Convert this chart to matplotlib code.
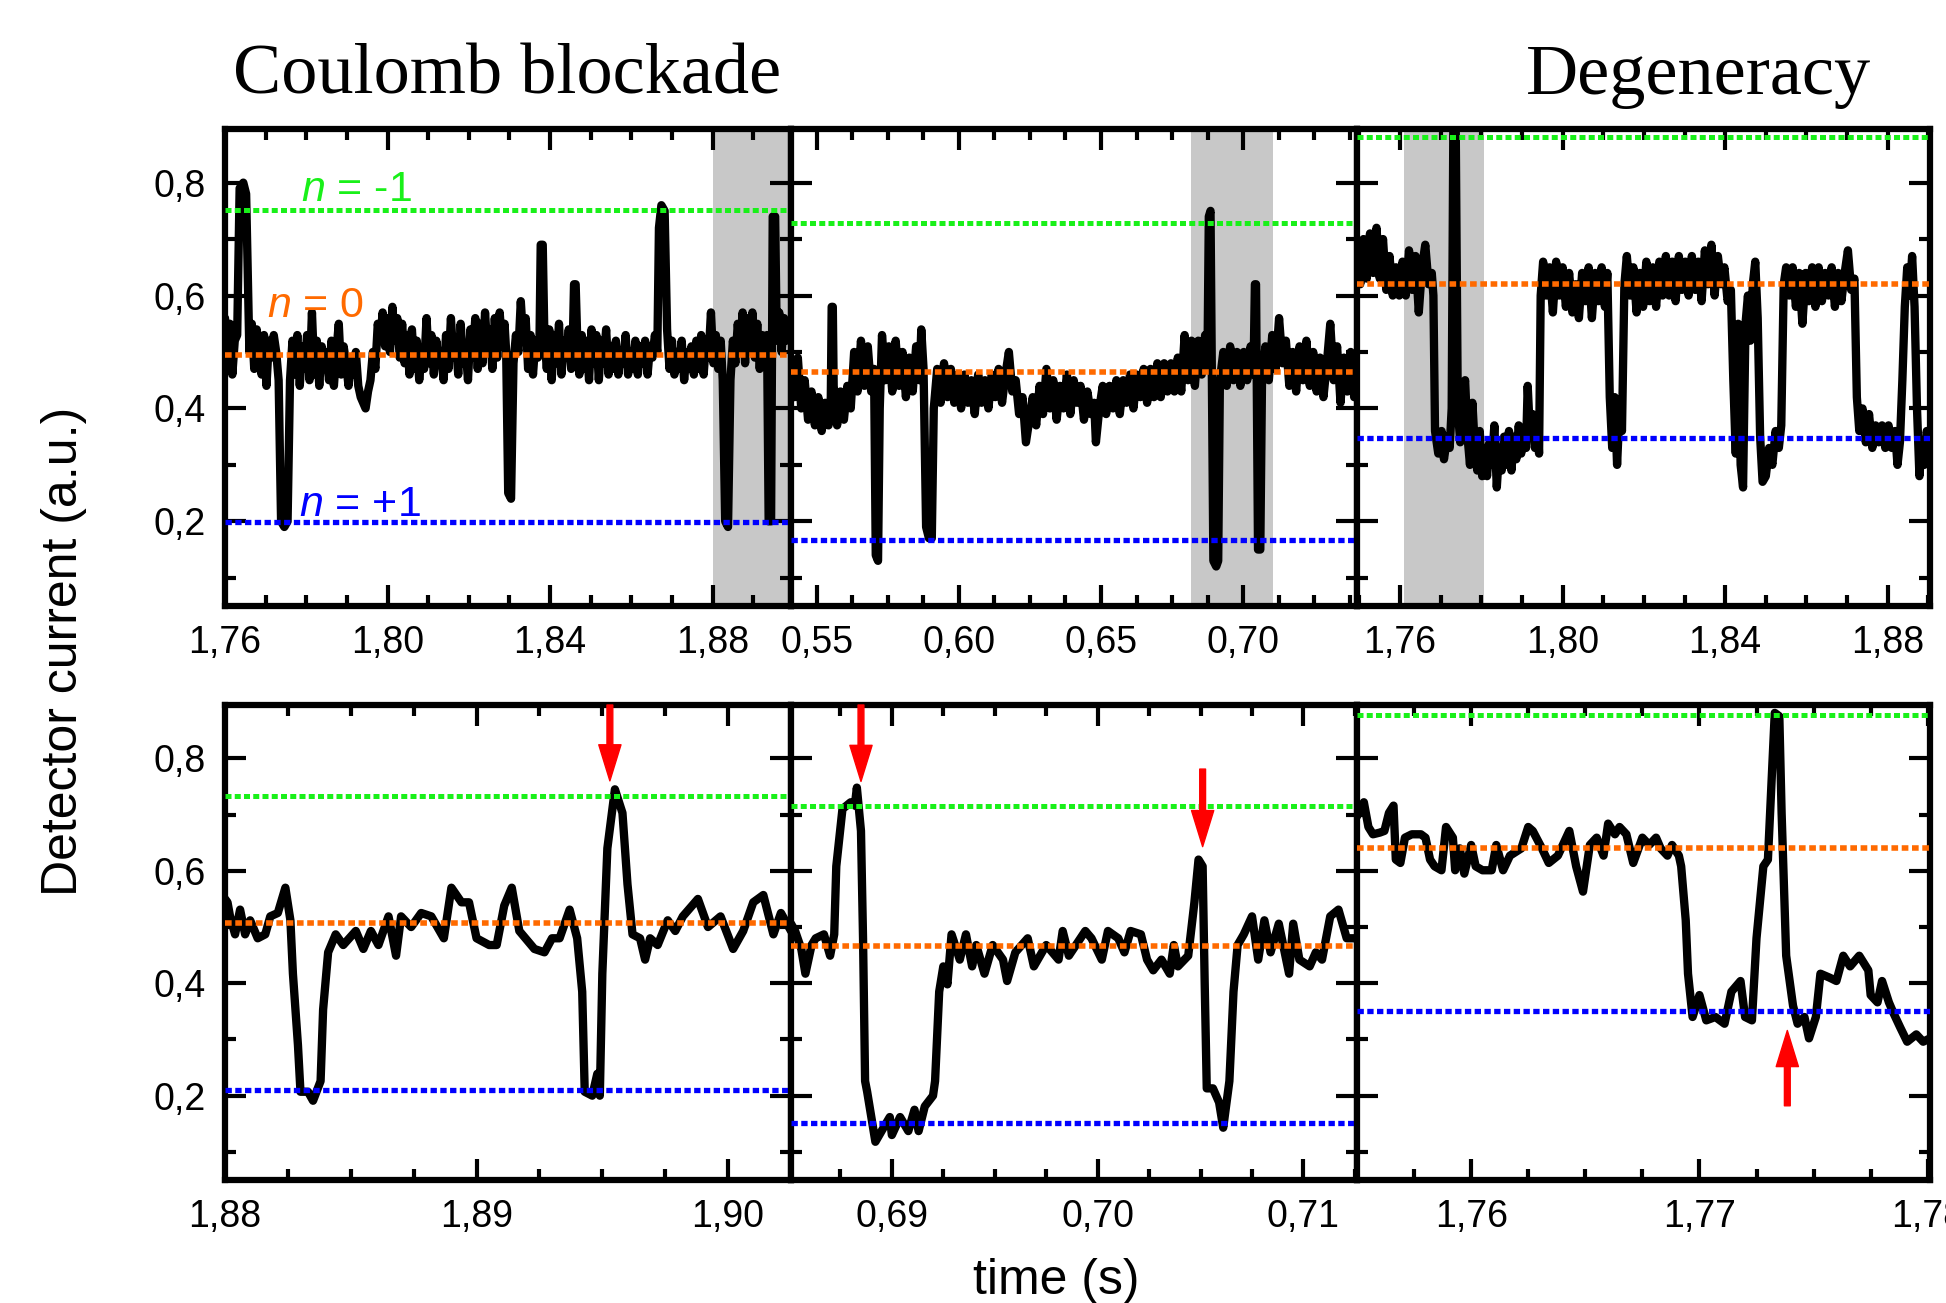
import matplotlib
matplotlib.use("Agg")
import matplotlib.pyplot as plt
from matplotlib.ticker import MultipleLocator

plt.rcParams['font.family'] = ['Liberation Sans', 'DejaVu Sans']
plt.rcParams['mathtext.fontset'] = 'custom'
plt.rcParams['mathtext.it'] = 'Liberation Sans:italic'
plt.rcParams['mathtext.rm'] = 'Liberation Sans'

# ---- data: (time s, detector current a.u.) ----
trace_cb_long = [
    (1.7600,0.56),(1.7606,0.47),(1.7612,0.55),(1.7618,0.46),(1.7624,0.52),
    (1.7630,0.53),(1.7636,0.79),(1.7645,0.80),(1.7652,0.78),(1.7660,0.50),
    (1.7666,0.55),(1.7672,0.47),(1.7678,0.54),(1.7684,0.50),(1.7690,0.46),(1.7696,0.53),
    (1.7702,0.44),(1.7708,0.52),(1.7714,0.49),(1.7720,0.53),(1.7726,0.50),
    (1.7732,0.45),(1.7738,0.20),(1.7746,0.19),(1.7754,0.20),(1.7760,0.45),
    (1.7766,0.52),(1.7772,0.46),(1.7778,0.53),(1.7784,0.44),(1.7790,0.51),(1.7796,0.47),
    (1.7802,0.53),(1.7808,0.45),(1.7814,0.57),(1.7820,0.46),(1.7826,0.52),(1.7832,0.44),
    (1.7838,0.51),(1.7844,0.47),(1.7850,0.50),(1.7856,0.45),(1.7862,0.52),(1.7868,0.44),
    (1.7874,0.50),(1.7880,0.55),(1.7886,0.46),(1.7892,0.51),(1.7898,0.48),(1.7904,0.44),
    (1.7910,0.49),(1.7916,0.46),(1.7922,0.50),(1.7928,0.44),(1.7934,0.42),(1.7940,0.41),
    (1.7946,0.40),(1.7952,0.43),(1.7958,0.45),(1.7964,0.50),(1.7970,0.47),(1.7976,0.55),
    (1.7982,0.52),(1.7988,0.57),(1.7994,0.51),(1.8000,0.56),(1.8006,0.50),(1.8012,0.58),
    (1.8018,0.52),(1.8024,0.56),(1.8030,0.49),(1.8036,0.55),(1.8042,0.48),(1.8048,0.53),
    (1.8054,0.46),(1.8060,0.54),(1.8066,0.47),(1.8072,0.52),(1.8078,0.45),(1.8084,0.50),
    (1.8090,0.47),(1.8096,0.56),(1.8102,0.48),(1.8108,0.53),(1.8114,0.46),(1.8120,0.52),
    (1.8126,0.48),(1.8132,0.50),(1.8138,0.45),(1.8144,0.53),(1.8150,0.47),(1.8156,0.56),
    (1.8162,0.49),(1.8168,0.52),(1.8174,0.46),(1.8180,0.55),(1.8186,0.48),(1.8192,0.51),
    (1.8198,0.45),(1.8204,0.54),(1.8210,0.49),(1.8216,0.56),(1.8222,0.47),(1.8228,0.55),
    (1.8234,0.48),(1.8240,0.57),(1.8246,0.50),(1.8252,0.54),(1.8258,0.47),(1.8264,0.56),
    (1.8270,0.49),(1.8276,0.57),(1.8282,0.51),(1.8288,0.55),
    (1.8292,0.50),(1.8297,0.25),(1.8304,0.24),(1.8310,0.48),
    (1.8316,0.53),(1.8322,0.50),(1.8328,0.59),(1.8334,0.52),(1.8340,0.56),(1.8346,0.47),
    (1.8352,0.53),(1.8358,0.46),(1.8364,0.52),(1.8370,0.49),(1.8374,0.52),
    (1.8377,0.69),(1.8382,0.69),(1.8386,0.53),
    (1.8392,0.47),(1.8398,0.54),(1.8404,0.45),(1.8410,0.53),(1.8416,0.48),(1.8422,0.55),
    (1.8428,0.46),(1.8434,0.52),(1.8440,0.49),(1.8446,0.54),(1.8452,0.47),(1.8456,0.52),
    (1.8459,0.62),(1.8463,0.62),(1.8467,0.52),
    (1.8472,0.46),(1.8478,0.53),(1.8484,0.47),(1.8490,0.52),(1.8496,0.45),(1.8502,0.54),
    (1.8508,0.48),(1.8514,0.53),(1.8520,0.45),(1.8526,0.52),(1.8532,0.48),(1.8538,0.54),
    (1.8544,0.46),(1.8550,0.51),(1.8556,0.47),(1.8562,0.52),(1.8568,0.46),(1.8574,0.50),
    (1.8580,0.48),(1.8586,0.53),(1.8592,0.46),(1.8598,0.50),(1.8604,0.47),(1.8610,0.52),
    (1.8616,0.46),(1.8622,0.51),(1.8628,0.48),(1.8634,0.52),(1.8640,0.46),(1.8646,0.51),
    (1.8652,0.49),(1.8658,0.53),(1.8664,0.50),
    (1.8668,0.72),(1.8674,0.76),(1.8682,0.75),(1.8688,0.54),
    (1.8694,0.47),(1.8700,0.52),(1.8706,0.46),(1.8712,0.50),(1.8718,0.47),(1.8724,0.52),
    (1.8730,0.45),(1.8736,0.50),(1.8742,0.47),(1.8748,0.51),(1.8754,0.46),(1.8760,0.52),
    (1.8766,0.47),(1.8772,0.53),(1.8778,0.46),(1.8784,0.52),(1.8790,0.49),(1.8796,0.57),
    (1.8802,0.48),(1.8808,0.53),(1.8814,0.47),(1.8820,0.52),
    (1.8825,0.45),(1.8831,0.20),(1.8838,0.19),(1.8844,0.45),
    (1.8850,0.52),(1.8856,0.48),(1.8862,0.55),(1.8868,0.50),(1.8874,0.57),(1.8880,0.48),
    (1.8886,0.56),(1.8892,0.50),(1.8898,0.57),(1.8904,0.49),(1.8910,0.55),(1.8916,0.47),
    (1.8922,0.53),(1.8928,0.49),(1.8934,0.53),
    (1.8938,0.20),(1.8944,0.20),(1.8948,0.74),(1.8954,0.74),(1.8958,0.52),
    (1.8964,0.57),(1.8970,0.50),(1.8976,0.56),(1.8982,0.52),(1.8988,0.55),(1.8993,0.53),
]

trace_mid_long = [
    (0.5410,0.47),(0.5422,0.42),(0.5434,0.49),(0.5446,0.40),(0.5458,0.45),(0.5470,0.38),
    (0.5482,0.43),(0.5494,0.37),(0.5506,0.42),(0.5518,0.36),(0.5530,0.41),(0.5542,0.37),
    (0.5550,0.42),(0.5553,0.58),(0.5557,0.58),(0.5560,0.44),
    (0.5572,0.37),(0.5584,0.43),(0.5596,0.38),(0.5608,0.44),(0.5620,0.40),(0.5632,0.50),
    (0.5644,0.43),(0.5656,0.52),(0.5668,0.44),(0.5680,0.51),(0.5692,0.43),(0.5702,0.47),
    (0.5708,0.14),(0.5716,0.13),(0.5722,0.40),
    (0.5730,0.53),(0.5742,0.45),(0.5754,0.51),(0.5766,0.43),(0.5778,0.52),(0.5790,0.44),
    (0.5802,0.50),(0.5814,0.42),(0.5826,0.49),(0.5838,0.43),(0.5850,0.51),(0.5862,0.45),
    (0.5868,0.54),(0.5876,0.47),
    (0.5885,0.19),(0.5895,0.17),(0.5905,0.17),(0.5912,0.40),
    (0.5924,0.47),(0.5936,0.41),(0.5948,0.48),(0.5960,0.42),(0.5972,0.47),(0.5984,0.41),
    (0.5996,0.46),(0.6008,0.40),(0.6020,0.46),(0.6032,0.41),(0.6044,0.45),(0.6056,0.39),
    (0.6068,0.46),(0.6080,0.41),(0.6092,0.45),(0.6104,0.40),(0.6116,0.46),(0.6128,0.42),
    (0.6140,0.47),(0.6152,0.41),(0.6164,0.46),(0.6176,0.50),(0.6188,0.43),(0.6200,0.45),
    (0.6212,0.39),(0.6224,0.42),(0.6236,0.34),(0.6248,0.38),(0.6260,0.42),(0.6272,0.37),
    (0.6284,0.44),(0.6296,0.39),(0.6308,0.47),(0.6320,0.40),(0.6332,0.45),(0.6344,0.38),
    (0.6356,0.44),(0.6368,0.40),(0.6380,0.46),(0.6392,0.39),(0.6404,0.45),(0.6416,0.41),
    (0.6428,0.44),(0.6440,0.38),(0.6452,0.43),(0.6464,0.39),(0.6476,0.41),(0.6482,0.34),
    (0.6494,0.40),(0.6506,0.44),(0.6518,0.39),(0.6530,0.44),(0.6542,0.40),(0.6554,0.45),
    (0.6566,0.39),(0.6578,0.45),(0.6590,0.41),(0.6602,0.46),(0.6614,0.40),(0.6626,0.46),
    (0.6638,0.42),(0.6650,0.47),(0.6662,0.41),(0.6674,0.47),(0.6686,0.42),(0.6698,0.48),
    (0.6710,0.42),(0.6722,0.48),(0.6734,0.43),(0.6746,0.48),(0.6758,0.43),(0.6770,0.49),
    (0.6782,0.43),(0.6794,0.53),(0.6806,0.45),(0.6818,0.52),(0.6830,0.44),(0.6842,0.52),
    (0.6854,0.46),(0.6866,0.53),(0.6874,0.47),
    (0.6879,0.74),(0.6885,0.75),(0.6890,0.45),
    (0.6895,0.13),(0.6905,0.12),(0.6912,0.13),(0.6918,0.45),
    (0.6930,0.50),(0.6942,0.44),(0.6954,0.51),(0.6966,0.45),(0.6978,0.50),(0.6990,0.44),
    (0.7002,0.50),(0.7014,0.45),(0.7026,0.51),(0.7036,0.46),
    (0.7041,0.62),(0.7045,0.62),(0.7052,0.15),(0.7060,0.15),(0.7066,0.45),
    (0.7078,0.51),(0.7090,0.45),(0.7102,0.53),(0.7114,0.47),(0.7126,0.56),(0.7138,0.48),
    (0.7150,0.52),(0.7162,0.44),(0.7174,0.50),(0.7186,0.43),(0.7198,0.51),(0.7210,0.45),
    (0.7222,0.52),(0.7234,0.44),(0.7246,0.50),(0.7258,0.43),(0.7270,0.49),(0.7282,0.42),
    (0.7294,0.48),(0.7306,0.55),(0.7318,0.45),(0.7330,0.51),(0.7342,0.41),(0.7354,0.49),
    (0.7366,0.43),(0.7378,0.50),(0.7390,0.42),(0.7400,0.46),
]

trace_deg_long = [
    (1.7494,0.68),(1.7502,0.62),(1.7510,0.70),(1.7518,0.63),(1.7526,0.71),(1.7534,0.64),
    (1.7542,0.72),(1.7550,0.63),(1.7558,0.70),(1.7566,0.61),(1.7574,0.67),(1.7582,0.60),
    (1.7590,0.65),(1.7598,0.60),(1.7606,0.66),(1.7614,0.60),(1.7622,0.68),(1.7630,0.61),
    (1.7638,0.67),(1.7646,0.57),(1.7654,0.65),(1.7662,0.69),(1.7670,0.62),(1.7678,0.64),
    (1.7682,0.60),
    (1.7686,0.36),(1.7694,0.32),(1.7702,0.36),(1.7708,0.31),(1.7716,0.35),(1.7722,0.33),
    (1.7727,0.40),(1.7731,0.89),(1.7737,0.89),(1.7742,0.40),
    (1.7748,0.34),(1.7754,0.42),(1.7760,0.45),(1.7766,0.35),(1.7772,0.30),(1.7778,0.41),
    (1.7784,0.33),(1.7790,0.29),(1.7796,0.36),(1.7802,0.28),(1.7808,0.33),(1.7814,0.28),
    (1.7820,0.34),(1.7826,0.30),(1.7832,0.37),(1.7838,0.26),(1.7844,0.33),(1.7850,0.29),
    (1.7856,0.35),(1.7862,0.30),(1.7868,0.36),(1.7874,0.29),(1.7880,0.35),(1.7886,0.31),
    (1.7892,0.37),(1.7898,0.32),(1.7904,0.36),(1.7910,0.33),(1.7914,0.44),(1.7920,0.35),
    (1.7926,0.39),(1.7932,0.33),(1.7938,0.38),(1.7942,0.32),
    (1.7946,0.60),(1.7952,0.66),(1.7960,0.60),(1.7968,0.65),(1.7976,0.57),(1.7984,0.66),
    (1.7992,0.60),(1.8000,0.65),(1.8008,0.58),(1.8016,0.64),(1.8024,0.57),(1.8032,0.62),
    (1.8040,0.56),(1.8048,0.64),(1.8056,0.59),(1.8064,0.65),(1.8072,0.56),(1.8080,0.64),
    (1.8088,0.59),(1.8096,0.65),(1.8104,0.58),(1.8110,0.64),
    (1.8116,0.42),(1.8122,0.33),(1.8128,0.42),(1.8134,0.30),(1.8140,0.40),(1.8146,0.36),
    (1.8152,0.62),(1.8158,0.67),(1.8166,0.60),(1.8174,0.65),(1.8182,0.57),(1.8190,0.64),
    (1.8198,0.58),(1.8206,0.66),(1.8214,0.59),(1.8222,0.65),(1.8230,0.58),(1.8238,0.66),
    (1.8246,0.60),(1.8254,0.67),(1.8262,0.60),(1.8270,0.66),(1.8278,0.59),(1.8286,0.67),
    (1.8294,0.61),(1.8302,0.66),(1.8310,0.60),(1.8318,0.67),(1.8326,0.61),(1.8334,0.66),
    (1.8342,0.59),(1.8350,0.68),(1.8358,0.62),(1.8366,0.69),(1.8374,0.60),(1.8382,0.67),
    (1.8390,0.62),(1.8398,0.65),(1.8406,0.59),(1.8414,0.61),
    (1.8420,0.45),(1.8426,0.32),(1.8432,0.55),(1.8438,0.30),(1.8444,0.26),(1.8450,0.55),
    (1.8456,0.60),(1.8462,0.52),(1.8468,0.62),(1.8474,0.66),(1.8480,0.56),
    (1.8486,0.35),(1.8492,0.27),(1.8500,0.28),(1.8508,0.33),(1.8516,0.30),(1.8524,0.36),
    (1.8532,0.33),(1.8538,0.37),
    (1.8544,0.62),(1.8550,0.65),(1.8558,0.60),(1.8566,0.65),(1.8574,0.58),(1.8582,0.64),
    (1.8590,0.55),(1.8598,0.64),(1.8606,0.59),(1.8614,0.65),(1.8622,0.58),(1.8630,0.65),
    (1.8638,0.59),(1.8646,0.64),(1.8654,0.60),(1.8662,0.65),(1.8670,0.58),(1.8678,0.64),
    (1.8686,0.59),(1.8694,0.64),(1.8702,0.68),(1.8710,0.61),(1.8718,0.63),
    (1.8724,0.42),(1.8730,0.36),(1.8738,0.40),(1.8746,0.34),(1.8754,0.39),(1.8762,0.33),
    (1.8770,0.37),(1.8778,0.34),(1.8786,0.37),(1.8794,0.33),(1.8802,0.37),(1.8810,0.33),
    (1.8818,0.36),(1.8824,0.30),(1.8830,0.34),(1.8836,0.45),
    (1.8842,0.58),(1.8848,0.65),(1.8854,0.60),(1.8860,0.67),(1.8866,0.58),(1.8872,0.40),
    (1.8878,0.28),(1.8884,0.34),(1.8890,0.30),(1.8896,0.36),(1.8904,0.33),
]

trace_cb_zoom = [
    (1.8800,0.550),(1.8801,0.544),(1.8802,0.519),(1.8804,0.487),(1.8806,0.531),(1.8808,0.487),
    (1.8810,0.512),(1.8813,0.480),(1.8816,0.487),(1.8818,0.519),(1.8821,0.525),(1.8824,0.570),
    (1.8826,0.512),(1.8827,0.417),(1.8829,0.290),(1.8830,0.207),(1.8833,0.207),(1.8835,0.191),
    (1.8838,0.226),(1.8839,0.353),(1.8841,0.455),(1.8844,0.487),(1.8847,0.468),(1.8852,0.493),
    (1.8855,0.461),(1.8858,0.493),(1.8861,0.468),(1.8865,0.519),(1.8868,0.449),(1.8870,0.519),
    (1.8874,0.500),(1.8878,0.525),(1.8882,0.519),(1.8887,0.480),(1.8890,0.570),(1.8894,0.544),
    (1.8897,0.544),(1.8900,0.480),(1.8905,0.468),(1.8908,0.468),(1.8911,0.538),(1.8914,0.570),
    (1.8917,0.493),(1.8923,0.461),(1.8927,0.455),(1.8930,0.480),(1.8933,0.480),(1.8937,0.531),
    (1.8940,0.480),(1.8942,0.385),(1.8943,0.207),(1.8946,0.200),(1.8948,0.239),(1.8949,0.200),
    (1.8950,0.417),(1.8952,0.640),(1.8955,0.745),(1.8958,0.703),(1.8960,0.576),(1.8962,0.487),
    (1.8965,0.480),(1.8967,0.442),(1.8969,0.480),(1.8972,0.468),(1.8976,0.512),(1.8979,0.493),
    (1.8982,0.519),(1.8988,0.550),(1.8992,0.500),(1.8997,0.519),(1.9002,0.461),(1.9006,0.493),
    (1.9010,0.544),(1.9014,0.557),(1.9018,0.487),(1.9021,0.525),(1.9025,0.493),
]

trace_mid_zoom = [
    (0.6851,0.506),(0.6853,0.493),(0.6856,0.461),(0.6858,0.417),(0.6861,0.468),(0.6863,0.480),
    (0.6867,0.487),(0.6870,0.449),(0.6872,0.487),(0.6873,0.608),(0.6876,0.710),(0.6880,0.722),
    (0.6882,0.716),(0.6883,0.748),(0.6885,0.671),(0.6886,0.480),(0.6887,0.226),(0.6888,0.207),
    (0.6892,0.118),(0.6895,0.137),(0.6899,0.162),(0.6900,0.130),(0.6904,0.162),(0.6908,0.137),
    (0.6911,0.175),(0.6913,0.137),(0.6916,0.181),(0.6920,0.200),(0.6921,0.226),(0.6923,0.385),
    (0.6925,0.430),(0.6927,0.398),(0.6929,0.487),(0.6933,0.442),(0.6936,0.487),(0.6939,0.430),
    (0.6941,0.468),(0.6945,0.417),(0.6949,0.468),(0.6954,0.442),(0.6956,0.404),(0.6960,0.455),
    (0.6966,0.480),(0.6969,0.430),(0.6975,0.468),(0.6981,0.442),(0.6983,0.493),(0.6986,0.449),
    (0.6994,0.493),(0.6997,0.480),(0.7002,0.442),(0.7005,0.493),(0.7010,0.480),(0.7013,0.455),
    (0.7016,0.493),(0.7021,0.487),(0.7024,0.442),(0.7027,0.423),(0.7031,0.442),(0.7035,0.417),
    (0.7037,0.468),(0.7039,0.430),(0.7044,0.449),(0.7047,0.544),(0.7049,0.620),(0.7051,0.608),
    (0.7052,0.400),(0.7053,0.213),(0.7056,0.213),(0.7059,0.188),(0.7061,0.143),(0.7064,0.226),
    (0.7066,0.385),(0.7068,0.468),(0.7071,0.487),(0.7075,0.519),(0.7078,0.442),(0.7081,0.512),
    (0.7084,0.455),(0.7088,0.506),(0.7093,0.417),(0.7095,0.506),(0.7098,0.442),(0.7103,0.430),
    (0.7106,0.455),(0.7109,0.442),(0.7113,0.519),(0.7117,0.531),(0.7121,0.480),(0.7125,0.480),
]

trace_deg_zoom = [
    (1.7550,0.697),(1.7553,0.722),(1.7555,0.678),(1.7557,0.665),(1.7560,0.668),(1.7562,0.671),
    (1.7564,0.703),(1.7566,0.716),(1.7567,0.620),(1.7569,0.614),(1.7571,0.659),(1.7574,0.665),
    (1.7578,0.665),(1.7580,0.659),(1.7582,0.620),(1.7584,0.608),(1.7587,0.601),(1.7589,0.678),
    (1.7592,0.659),(1.7593,0.601),(1.7595,0.640),(1.7597,0.595),(1.7600,0.646),(1.7602,0.608),
    (1.7605,0.601),(1.7609,0.601),(1.7611,0.646),(1.7614,0.601),(1.7617,0.627),(1.7622,0.640),
    (1.7625,0.678),(1.7627,0.671),(1.7631,0.640),(1.7634,0.614),(1.7638,0.627),(1.7643,0.671),
    (1.7646,0.608),(1.7649,0.563),(1.7652,0.646),(1.7655,0.659),(1.7658,0.627),(1.7660,0.684),
    (1.7663,0.665),(1.7665,0.678),(1.7668,0.665),(1.7671,0.614),(1.7675,0.659),(1.7678,0.646),
    (1.7681,0.659),(1.7683,0.640),(1.7686,0.627),(1.7688,0.646),(1.7691,0.627),(1.7692,0.608),
    (1.7694,0.512),(1.7695,0.417),(1.7697,0.340),(1.7700,0.379),(1.7703,0.334),(1.7707,0.340),
    (1.7711,0.328),(1.7714,0.385),(1.7718,0.404),(1.7720,0.340),(1.7723,0.334),(1.7725,0.480),
    (1.7728,0.608),(1.7730,0.620),(1.7733,0.881),(1.7735,0.875),(1.7736,0.703),(1.7738,0.449),
    (1.7741,0.360),(1.7743,0.328),(1.7746,0.340),(1.7748,0.302),(1.7751,0.340),(1.7753,0.417),
    (1.7757,0.410),(1.7760,0.404),(1.7763,0.449),(1.7766,0.430),(1.7770,0.449),(1.7774,0.423),
    (1.7775,0.379),(1.7778,0.366),(1.7780,0.404),(1.7783,0.366),(1.7785,0.347),(1.7788,0.321),
    (1.7791,0.296),(1.7795,0.309),(1.7798,0.296),(1.7801,0.302),
]

traces = [trace_cb_long, trace_mid_long, trace_deg_long,
          trace_cb_zoom, trace_mid_zoom, trace_deg_zoom]

# charge-state levels n = -1, 0, +1 in each panel
level_minus = [0.752, 0.728, 0.880, 0.733, 0.715, 0.878]
level_zero = [0.495, 0.464, 0.620, 0.508, 0.466, 0.641]
level_plus = [0.199, 0.167, 0.348, 0.210, 0.152, 0.351]

x_limits = [(1.76, 1.8993), (0.541, 0.740), (1.7494, 1.8904),
            (1.88, 1.9025), (0.6851, 0.7126), (1.755, 1.7801)]
x_major = [[1.76, 1.80, 1.84, 1.88], [0.55, 0.60, 0.65, 0.70], [1.76, 1.80, 1.84, 1.88],
           [1.88, 1.89, 1.90], [0.69, 0.70, 0.71], [1.76, 1.77, 1.78]]
x_labels = [["1,76", "1,80", "1,84", "1,88"], ["0,55", "0,60", "0,65", "0,70"],
            ["1,76", "1,80", "1,84", "1,88"], ["1,88", "1,89", "1,90"],
            ["0,69", "0,70", "0,71"], ["1,76", "1,77", "1,78"]]
x_minor = [0.01, 0.0125, 0.01, 0.0025, 0.0025, 0.0025]
y_major = [0.2, 0.4, 0.6, 0.8]
y_labels = ["0,2", "0,4", "0,6", "0,8"]

# shaded windows (panel index, start, end)
shaded = [(0, 1.88, 1.8993), (1, 0.6817, 0.7104), (2, 1.7609, 1.7807)]

# red arrows (panel index, x, tail y, tip y)
arrows = [(3, 1.8953, 0.895, 0.760), (4, 0.6885, 0.895, 0.759),
          (4, 0.7051, 0.781, 0.643), (5, 1.77385, 0.182, 0.316)]

GREEN = '#19f019'
ORANGE = '#ff6a00'
BLUE = '#0000ff'

fig = plt.figure(figsize=(19.46, 13.03), dpi=100)
W, H = 1946, 1303
cols = [225, 791, 1357, 1930]
rows = [(129, 606), (705, 1180)]

axes = []
for r, (top, bot) in enumerate(rows):
    for c in range(3):
        ax = fig.add_axes([cols[c] / W, 1 - bot / H, (cols[c + 1] - cols[c]) / W, (bot - top) / H])
        axes.append(ax)

for i, ax in enumerate(axes):
    t = [p[0] for p in traces[i]]
    v = [p[1] for p in traces[i]]
    ax.plot(t, v, color='black', lw=6.0, solid_joinstyle='round', solid_capstyle='round', zorder=2)
    for lev, col, lw in ((level_minus[i], GREEN, 3.6), (level_zero[i], ORANGE, 4.0), (level_plus[i], BLUE, 3.8)):
        ax.axhline(lev, color=col, lw=lw, linestyle=(0, (1.2, 0.65)), zorder=3)
    ax.set_xlim(*x_limits[i])
    ax.set_ylim(0.05, 0.895)
    ax.set_xticks(x_major[i])
    ax.set_xticklabels(x_labels[i])
    ax.xaxis.set_minor_locator(MultipleLocator(x_minor[i]))
    ax.set_yticks(y_major)
    ax.yaxis.set_minor_locator(MultipleLocator(0.1))
    if i % 3 == 0:
        ax.set_yticklabels(y_labels)
    else:
        ax.set_yticklabels([])
    ax.tick_params(which='both', direction='in', top=True, right=True, width=3.0, labelsize=27, pad=14)
    ax.tick_params(which='major', length=15)
    ax.tick_params(which='minor', length=8)
    for s in ax.spines.values():
        s.set_linewidth(4.5)

for idx, a, b in shaded:
    axes[idx].axvspan(a, b, color='#c8c8c8', lw=0, zorder=0)

for idx, x, y0, y1 in arrows:
    axes[idx].annotate('', xy=(x, y1), xytext=(x, y0),
                       arrowprops=dict(arrowstyle='simple,head_width=16,head_length=26,tail_width=4.2',
                                       color='red', mutation_scale=1, shrinkA=0, shrinkB=0),
                       zorder=5)

ax0 = axes[0]
ax0.text(1.7787, 0.767, '$n$ = -1', color=GREEN, fontsize=31, va='baseline')
ax0.text(1.7704, 0.562, '$n$ = 0', color=ORANGE, fontsize=31, va='baseline')
ax0.text(1.7782, 0.209, '$n$ = +1', color=BLUE, fontsize=31, va='baseline')

fig.text(233 / W, 1 - 94 / H, 'Coulomb blockade', family='Liberation Serif', fontsize=52, va='baseline')
fig.text(1526 / W, 1 - 94 / H, 'Degeneracy', family='Liberation Serif', fontsize=52, va='baseline')
fig.text(64 / W, 1 - 651 / H, 'Detector current (a.u.)', rotation=90, fontsize=36, ha='center', va='center')
fig.text(1056 / W, 1 - 1294 / H, 'time (s)', fontsize=36, ha='center', va='baseline')

fig.savefig('out.png', dpi=100)
